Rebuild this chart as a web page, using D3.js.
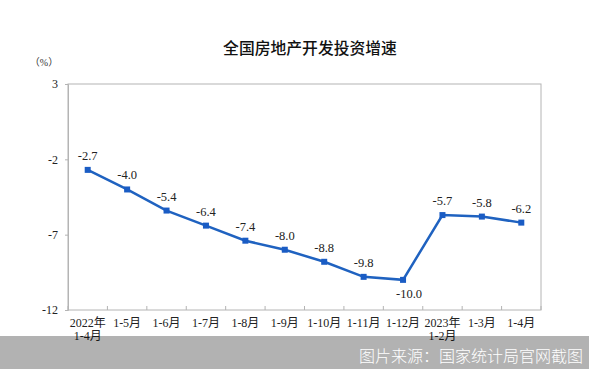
<!DOCTYPE html>
<html><head><meta charset="utf-8">
<script src="https://cdn.jsdelivr.net/npm/d3@7/dist/d3.min.js"></script>
<style>body{margin:0;background:#fff}svg{display:block}</style>
</head><body>
<svg id="c" width="589" height="369"></svg>
<script>
const categories = ["2022年\n1-4月","1-5月","1-6月","1-7月","1-8月","1-9月","1-10月","1-11月","1-12月","2023年\n1-2月","1-3月","1-4月"];
const values = [-2.7,-4.0,-5.4,-6.4,-7.4,-8.0,-8.8,-9.8,-10.0,-5.7,-5.8,-6.2];
const yTicks = [3,-2,-7,-12];
const title = "全国房地产开发投资增速";
const unit = "（%）";
const source = "图片来源：国家统计局官网截图";

const svg = d3.select("#c");
const L=68,R=541,T=84,B=310;
const x = d3.scaleBand().domain(categories).range([L,R]);
const y = d3.scaleLinear().domain([-12,3]).range([B,T]);
const serif = "'Liberation Serif','DejaVu Serif','Noto Sans CJK SC',serif";
const sans = "'Noto Sans CJK SC','Noto Sans',sans-serif";

svg.append("text").attr("x",310).attr("y",54).attr("text-anchor","middle")
  .attr("font-family",sans).attr("font-size",15.8).attr("font-weight",500).attr("fill","#111").text(title);
svg.append("text").attr("x",44).attr("y",66).attr("text-anchor","middle")
  .attr("font-family",serif).attr("font-size",10).attr("fill","#333").text(unit);

// frame
svg.append("rect").attr("x",L).attr("y",T).attr("width",R-L).attr("height",B-T)
  .attr("fill","none").attr("stroke","#b4b4b4").attr("stroke-width",1);

// y axis
const ya = svg.append("g").attr("transform",`translate(${L},0)`)
  .call(d3.axisLeft(y).tickValues(yTicks).tickSize(3).tickPadding(7).tickFormat(d=>String(d)));
ya.select(".domain").attr("stroke","#b4b4b4");
ya.selectAll(".tick line").attr("stroke","#b4b4b4");
ya.selectAll("text").attr("font-family",serif).attr("font-size",12).attr("fill","#222");

// x axis ticks at boundaries (inside)
const bounds = categories.map(c=>x(c)).concat([R]);
svg.append("g").selectAll("line").data(bounds).join("line")
  .attr("x1",d=>d).attr("x2",d=>d).attr("y1",B).attr("y2",B-4).attr("stroke","#b4b4b4");
const xl = svg.append("g");
categories.forEach(c=>{
  const lines = c.split("\n");
  const t = xl.append("text").attr("x",x(c)+x.bandwidth()/2).attr("y",327).attr("text-anchor","middle")
    .attr("font-family",serif).attr("font-size",12).attr("fill","#222");
  lines.forEach((s,i)=>t.append("tspan").attr("x",x(c)+x.bandwidth()/2).attr("dy",i?13:0).text(s));
});

// line
const cx = (d,i)=>x(categories[i])+x.bandwidth()/2;
svg.append("path").datum(values)
  .attr("d",d3.line().x(cx).y(d=>y(d)))
  .attr("fill","none").attr("stroke","#1f62c0").attr("stroke-width",2.5);
svg.append("g").selectAll("rect").data(values).join("rect")
  .attr("x",(d,i)=>cx(d,i)-3).attr("y",d=>y(d)-3).attr("width",6).attr("height",6).attr("fill","#1a5cc4");
svg.append("g").selectAll("text").data(values).join("text")
  .attr("x",(d,i)=>cx(d,i)+ (d===-10?6:0)).attr("y",(d,i)=>d===-10? y(d)+18 : y(d)-10)
  .attr("text-anchor","middle").attr("font-family",serif).attr("font-size",12.5).attr("fill","#222")
  .text(d=>d.toFixed(1));

// source banner
svg.append("rect").attr("x",0).attr("y",336).attr("width",589).attr("height",33).attr("fill","#000").attr("opacity",0.3);
svg.append("text").attr("x",583).attr("y",362).attr("text-anchor","end")
  .attr("font-family",sans).attr("font-size",16).attr("font-weight",300).attr("fill","#fff").text(source);
</script>
</body></html>
